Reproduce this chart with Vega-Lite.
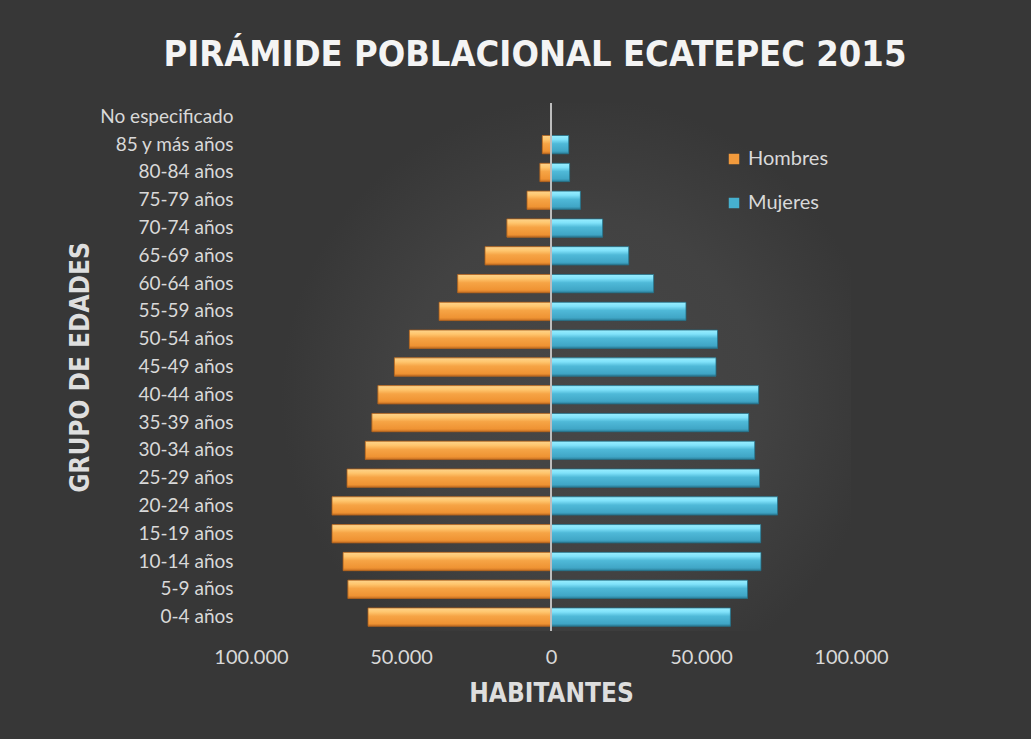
{
  "$schema": "https://vega.github.io/schema/vega-lite/v6.json",
  "autosize": {"type": "none"},
  "width": 600,
  "height": 528,
  "padding": {"left": 251, "top": 103, "right": 180, "bottom": 108},
  "background": "#373737",
  "view": {"stroke": null, "fill": {"gradient": "radial", "x1": 0.55, "y1": 0.55, "r1": 0, "x2": 0.55, "y2": 0.55, "r2": 0.5, "stops": [{"offset": 0, "color": "#474747"}, {"offset": 0.6, "color": "#424242"}, {"offset": 1, "color": "#373737"}]}},
  "title": {
    "text": "PIRÁMIDE POBLACIONAL ECATEPEC 2015",
    "font": "DejaVu Sans Condensed",
    "fontWeight": "bold",
    "fontSize": 36,
    "color": "#f4f4f4",
    "anchor": "middle",
    "frame": "group",
    "baseline": "alphabetic",
    "offset": 0,
    "dx": -16
  },
  "config": {
    "axis": {"labelFont": "Lato", "labelColor": "#d9d9d9", "titleColor": "#dedede", "titleFont": "DejaVu Sans Condensed", "titleFontWeight": "bold", "titleFontSize": 26, "domain": false, "ticks": false, "grid": false},
    "legend": {"labelFont": "Lato", "labelColor": "#d9d9d9", "labelFontSize": 20}
  },
  "datasets": {
    "pob": [
      {"grupo": "No especificado", "sexo": "Hombres", "habitantes": 0},
      {"grupo": "85 y más años", "sexo": "Hombres", "habitantes": -2900},
      {"grupo": "80-84 años", "sexo": "Hombres", "habitantes": -3700},
      {"grupo": "75-79 años", "sexo": "Hombres", "habitantes": -8000},
      {"grupo": "70-74 años", "sexo": "Hombres", "habitantes": -14700},
      {"grupo": "65-69 años", "sexo": "Hombres", "habitantes": -22000},
      {"grupo": "60-64 años", "sexo": "Hombres", "habitantes": -31100},
      {"grupo": "55-59 años", "sexo": "Hombres", "habitantes": -37300},
      {"grupo": "50-54 años", "sexo": "Hombres", "habitantes": -47200},
      {"grupo": "45-49 años", "sexo": "Hombres", "habitantes": -52200},
      {"grupo": "40-44 años", "sexo": "Hombres", "habitantes": -57700},
      {"grupo": "35-39 años", "sexo": "Hombres", "habitantes": -59700},
      {"grupo": "30-34 años", "sexo": "Hombres", "habitantes": -61900},
      {"grupo": "25-29 años", "sexo": "Hombres", "habitantes": -68000},
      {"grupo": "20-24 años", "sexo": "Hombres", "habitantes": -73000},
      {"grupo": "15-19 años", "sexo": "Hombres", "habitantes": -73000},
      {"grupo": "10-14 años", "sexo": "Hombres", "habitantes": -69300},
      {"grupo": "5-9 años", "sexo": "Hombres", "habitantes": -67700},
      {"grupo": "0-4 años", "sexo": "Hombres", "habitantes": -61000},
      {"grupo": "No especificado", "sexo": "Mujeres", "habitantes": 0},
      {"grupo": "85 y más años", "sexo": "Mujeres", "habitantes": 5900},
      {"grupo": "80-84 años", "sexo": "Mujeres", "habitantes": 6200},
      {"grupo": "75-79 años", "sexo": "Mujeres", "habitantes": 9800},
      {"grupo": "70-74 años", "sexo": "Mujeres", "habitantes": 17200},
      {"grupo": "65-69 años", "sexo": "Mujeres", "habitantes": 25900},
      {"grupo": "60-64 años", "sexo": "Mujeres", "habitantes": 34200},
      {"grupo": "55-59 años", "sexo": "Mujeres", "habitantes": 45000},
      {"grupo": "50-54 años", "sexo": "Mujeres", "habitantes": 55500},
      {"grupo": "45-49 años", "sexo": "Mujeres", "habitantes": 55000},
      {"grupo": "40-44 años", "sexo": "Mujeres", "habitantes": 69200},
      {"grupo": "35-39 años", "sexo": "Mujeres", "habitantes": 65900},
      {"grupo": "30-34 años", "sexo": "Mujeres", "habitantes": 67900},
      {"grupo": "25-29 años", "sexo": "Mujeres", "habitantes": 69500},
      {"grupo": "20-24 años", "sexo": "Mujeres", "habitantes": 75500},
      {"grupo": "15-19 años", "sexo": "Mujeres", "habitantes": 69900},
      {"grupo": "10-14 años", "sexo": "Mujeres", "habitantes": 70000},
      {"grupo": "5-9 años", "sexo": "Mujeres", "habitantes": 65500},
      {"grupo": "0-4 años", "sexo": "Mujeres", "habitantes": 59800}
    ]
  },
  "data": {"name": "pob"},
  "layer": [
    {
      "mark": {"type": "bar", "strokeWidth": 0},
      "encoding": {
        "y": {
          "field": "grupo", "type": "nominal",
          "sort": ["No especificado", "85 y más años", "80-84 años", "75-79 años", "70-74 años", "65-69 años", "60-64 años", "55-59 años", "50-54 años", "45-49 años", "40-44 años", "35-39 años", "30-34 años", "25-29 años", "20-24 años", "15-19 años", "10-14 años", "5-9 años", "0-4 años"],
          "scale": {"paddingInner": 0.34, "paddingOuter": 0.17},
          "axis": {"title": "GRUPO DE EDADES", "labelFontSize": 19, "labelPadding": 18, "titlePadding": 6}
        },
        "x": {
          "field": "habitantes", "type": "quantitative",
          "scale": {"domain": [-100000, 100000], "nice": false},
          "axis": {"title": "HABITANTES", "values": [-100000, -50000, 0, 50000, 100000], "labelExpr": "replace(format(abs(datum.value), ',.0f'), /,/g, '.')", "labelFontSize": 20, "labelFlush": false, "labelPadding": 16, "titlePadding": 13}
        },
        "color": {
          "field": "sexo", "type": "nominal",
          "scale": {"domain": ["Hombres", "Mujeres"], "range": ["#f29a3c", "#46b0cf"]},
          "legend": {"title": null, "orient": "none", "legendX": 473, "legendY": 46, "symbolType": "square", "symbolSize": 110, "symbolStrokeWidth": 0, "rowPadding": 24, "labelOffset": 4}
        }
      }
    },
    {
      "transform": [{"filter": "datum.sexo === 'Hombres'"}],
      "mark": {"type": "bar", "stroke": "#a85d1c", "strokeWidth": 0.8, "color": {"gradient": "linear", "x1": 0, "y1": 0, "x2": 0, "y2": 1, "stops": [{"offset": 0, "color": "#fdd48c"}, {"offset": 0.22, "color": "#ffc66e"}, {"offset": 0.45, "color": "#f6a445"}, {"offset": 0.85, "color": "#ef9333"}, {"offset": 1, "color": "#c46e22"}]}},
      "encoding": {
        "y": {"field": "grupo", "type": "nominal", "sort": ["No especificado", "85 y más años", "80-84 años", "75-79 años", "70-74 años", "65-69 años", "60-64 años", "55-59 años", "50-54 años", "45-49 años", "40-44 años", "35-39 años", "30-34 años", "25-29 años", "20-24 años", "15-19 años", "10-14 años", "5-9 años", "0-4 años"]},
        "x": {"field": "habitantes", "type": "quantitative"}
      }
    },
    {
      "transform": [{"filter": "datum.sexo === 'Mujeres'"}],
      "mark": {"type": "bar", "stroke": "#24697f", "strokeWidth": 0.8, "color": {"gradient": "linear", "x1": 0, "y1": 0, "x2": 0, "y2": 1, "stops": [{"offset": 0, "color": "#9aeeff"}, {"offset": 0.22, "color": "#80e2fa"}, {"offset": 0.45, "color": "#4fb9d8"}, {"offset": 0.85, "color": "#40a6c6"}, {"offset": 1, "color": "#2a7d98"}]}},
      "encoding": {
        "y": {"field": "grupo", "type": "nominal", "sort": ["No especificado", "85 y más años", "80-84 años", "75-79 años", "70-74 años", "65-69 años", "60-64 años", "55-59 años", "50-54 años", "45-49 años", "40-44 años", "35-39 años", "30-34 años", "25-29 años", "20-24 años", "15-19 años", "10-14 años", "5-9 años", "0-4 años"]},
        "x": {"field": "habitantes", "type": "quantitative"}
      }
    },
    {
      "data": {"values": [{"cero": 0}]},
      "mark": {"type": "rule", "color": "#bdbdbd", "strokeWidth": 2},
      "encoding": {"x": {"field": "cero", "type": "quantitative"}}
    }
  ]
}
